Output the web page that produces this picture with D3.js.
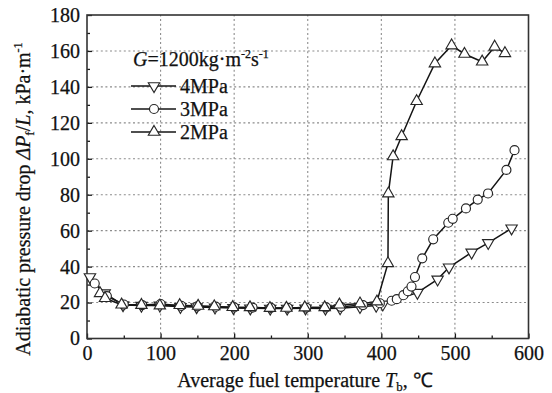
<!DOCTYPE html>
<html>
<head>
<meta charset="utf-8">
<script src="https://cdn.jsdelivr.net/npm/d3@7/dist/d3.min.js"></script>
<style>
  html, body { margin: 0; padding: 0; background: #fff; }
  svg { display: block; }
  text { font-family: "Liberation Serif", "Times New Roman", serif; fill: #111; stroke: #111; stroke-width: 0.25px; }
</style>
</head>
<body>
<svg id="chart" width="552" height="393"></svg>
<script>
// Adiabatic pressure drop vs. average fuel temperature, G = 1200 kg·m^-2·s^-1
const series4MPa = [
  [4, 34.2], [24, 25.2], [49, 18.6], [74, 18.3], [99, 18.4], [127, 17.6], [149, 17.5],
  [174, 17.3], [199, 17.0], [222, 16.8], [249, 16.7], [272, 16.7], [297, 16.8], [324, 16.7],
  [344, 16.9], [371, 17.6], [393, 18.3], [402, 19.0], [449, 25.5], [476.5, 32.9],
  [492, 39.6], [522.7, 47.9], [545.3, 53.2], [577, 61.3]
];
const series3MPa = [
  [10.5, 30.6], [27, 23.6], [50, 18.9], [75, 18.6], [100, 19.2], [128, 18.2], [150, 17.9],
  [175, 17.7], [200, 17.3], [225, 17.2], [250, 17.0], [273, 17.0], [298, 17.2], [325, 17.3],
  [345, 17.6], [375, 18.6], [398, 19.6], [414, 21.0], [421, 21.9], [430, 24.1], [436, 26.3],
  [441, 28.9], [445.7, 34.2], [455.6, 44.6], [470.5, 55.2], [491, 64.4], [497, 66.6],
  [515, 72.4], [531, 77.3], [545, 80.7], [570, 93.8], [581, 104.8]
];
const series2MPa = [
  [17.7, 25.1], [24.5, 22.4], [47, 18.8], [74, 18.6], [99, 18.3], [126, 18.5], [151, 18.1],
  [173, 17.8], [198, 17.4], [221.5, 17.3], [248.6, 16.9], [271, 17.0], [296, 17.2], [323, 17.3],
  [343, 18.8], [371, 19.4], [394, 20.5], [409, 41.8], [409.5, 80.6], [416, 101.3],
  [427.6, 112.5], [448, 132.0], [472.8, 153.0], [495.5, 163.0], [513, 158.3], [537, 154.0],
  [554, 162.3], [568, 158.7]
];

const legendLabels = ["4MPa", "3MPa", "2MPa"];
const xTicks = [0, 100, 200, 300, 400, 500, 600];
const yTicks = [0, 20, 40, 60, 80, 100, 120, 140, 160, 180];
const xMinorTicks = [50, 150, 250, 350, 450, 550];
const yMinorTicks = [10, 30, 50, 70, 90, 110, 130, 150, 170];

const svg = d3.select("#chart");
const margin = { left: 87, right: 23.5, top: 15, bottom: 54.5 };
const W = 552, H = 393;
const x = d3.scaleLinear().domain([0, 600]).range([margin.left, W - margin.right]);
const y = d3.scaleLinear().domain([0, 180]).range([H - margin.bottom, margin.top]);

const ink = "#1a1a1a";
const fs = 20;

// dotted grid at the major ticks
const grid = svg.append("g");
grid.selectAll("line.gx").data(xTicks.slice(1, -1)).join("line")
  .attr("x1", d => x(d)).attr("x2", d => x(d))
  .attr("y1", y(0)).attr("y2", y(180))
  .attr("stroke", "#8c8c8c").attr("stroke-width", 1.1).attr("stroke-dasharray", "2,2.6");
grid.selectAll("line.gy").data(yTicks.slice(1, -1)).join("line")
  .attr("y1", d => y(d)).attr("y2", d => y(d))
  .attr("x1", x(0)).attr("x2", x(600))
  .attr("stroke", "#8c8c8c").attr("stroke-width", 1.1).attr("stroke-dasharray", "2,2.6");

// axes with inward ticks
const xAxis = svg.append("g").attr("transform", `translate(0,${y(0)})`)
  .call(d3.axisBottom(x).tickValues(xTicks).tickSizeInner(-5).tickSizeOuter(0).tickPadding(11));
const xMinor = svg.append("g").attr("transform", `translate(0,${y(0)})`)
  .call(d3.axisBottom(x).tickValues(xMinorTicks).tickSizeInner(-3).tickSizeOuter(0).tickFormat(""));
const yAxis = svg.append("g").attr("transform", `translate(${x(0)},0)`)
  .call(d3.axisLeft(y).tickValues(yTicks).tickSizeInner(-5).tickSizeOuter(0).tickPadding(7));
const yMinor = svg.append("g").attr("transform", `translate(${x(0)},0)`)
  .call(d3.axisLeft(y).tickValues(yMinorTicks).tickSizeInner(-3).tickSizeOuter(0).tickFormat(""));

[xAxis, xMinor, yAxis, yMinor].forEach(g => {
  g.select(".domain").remove();
  g.selectAll(".tick line").attr("stroke", ink).attr("stroke-width", 1.3);
  g.selectAll("text").attr("font-family", "Liberation Serif, serif").attr("font-size", fs)
    .attr("fill", "#111").attr("stroke", "#111").attr("stroke-width", 0.25);
});
xAxis.selectAll("text").attr("dy", "0.5em");

// plot frame
svg.append("rect")
  .attr("x", x(0)).attr("y", y(180))
  .attr("width", x(600) - x(0)).attr("height", y(0) - y(180))
  .attr("fill", "none").attr("stroke", "#333").attr("stroke-width", 1.6);

// series
const allSeries = [
  { data: series4MPa, sym: "down" },
  { data: series3MPa, sym: "circle" },
  { data: series2MPa, sym: "up" }
];
const line = d3.line().x(d => x(d[0])).y(d => y(d[1]));
const triPath = d3.symbol().type(d3.symbolTriangle).size(56)();
const circPath = d3.symbol().type(d3.symbolCircle).size(64)();

function drawMarker(g, kind, cx, cy) {
  const p = kind === "circle" ? circPath : triPath;
  const rot = kind === "down" ? " rotate(180)" : "";
  g.append("path").attr("d", p)
    .attr("transform", `translate(${cx},${cy})${rot}`)
    .attr("fill", "#fff").attr("stroke", "#262626").attr("stroke-width", 1.15);
}

allSeries.forEach(s => {
  svg.append("path").datum(s.data).attr("d", line)
    .attr("fill", "none").attr("stroke", "#141414").attr("stroke-width", 1.5);
});
allSeries.forEach(s => {
  const g = svg.append("g");
  s.data.forEach(d => drawMarker(g, s.sym, x(d[0]), y(d[1])));
});

// legend
const lg = svg.append("g");
const head = lg.append("text").attr("x", 133).attr("y", 66).attr("font-size", fs);
head.append("tspan").attr("font-style", "italic").text("G");
head.append("tspan").text("=1200kg·m");
head.append("tspan").attr("font-size", 12).attr("dy", -8).text("-2");
head.append("tspan").attr("dy", 8).text("s");
head.append("tspan").attr("font-size", 12).attr("dy", -8).text("-1");
const legendSyms = ["down", "circle", "up"];
legendLabels.forEach((lab, i) => {
  const ly = 86 + i * 23;
  lg.append("line").attr("x1", 131).attr("x2", 176).attr("y1", ly).attr("y2", ly)
    .attr("stroke", "#141414").attr("stroke-width", 1.5);
  drawMarker(lg, legendSyms[i], 154, ly);
  lg.append("text").attr("x", 180).attr("y", ly + 7).attr("font-size", fs).text(lab);
});

// axis titles
const xt = svg.append("text").attr("x", 305).attr("y", 387).attr("text-anchor", "middle").attr("font-size", fs);
xt.append("tspan").text("Average fuel temperature ");
xt.append("tspan").attr("font-style", "italic").text("T");
xt.append("tspan").attr("font-size", 13).attr("dy", 4).text("b");
xt.append("tspan").attr("dy", -4).text(", ℃");

const yt = svg.append("text").attr("transform", "translate(30,199) rotate(-90)")
  .attr("text-anchor", "middle").attr("font-size", fs);
yt.append("tspan").text("Adiabatic pressure drop ");
yt.append("tspan").attr("font-style", "italic").text("ΔP");
yt.append("tspan").attr("font-size", 13).attr("dy", 4).text("f");
yt.append("tspan").attr("dy", -4).text("/");
yt.append("tspan").attr("font-style", "italic").text("L");
yt.append("tspan").text(", kPa·m");
yt.append("tspan").attr("font-size", 12).attr("dy", -8).text("-1");
</script>
</body>
</html>
